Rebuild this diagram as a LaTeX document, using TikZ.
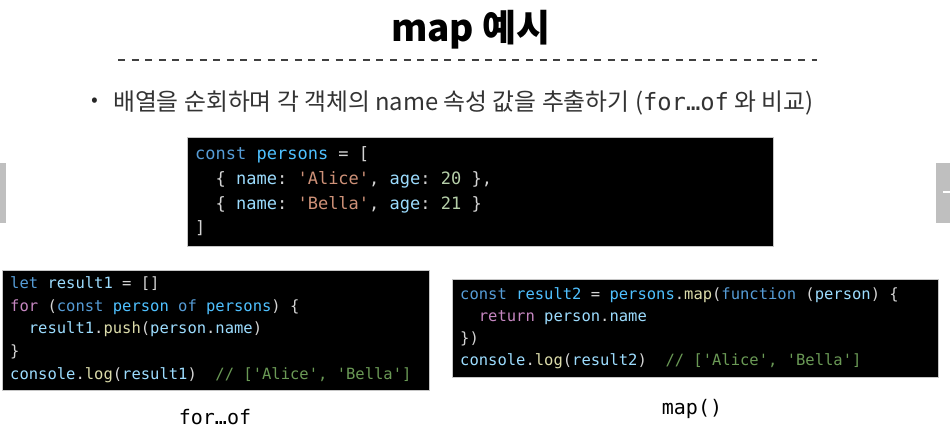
\documentclass[tikz,border=0pt]{standalone}
\usepackage{fontspec}
\usepackage{tikz}
\setmonofont{DejaVu Sans Mono}
\newfontfamily\kr{Noto Sans CJK KR}

\definecolor{kwblue}{HTML}{569CD6}
\definecolor{varblue}{HTML}{9CDCFE}
\definecolor{cstblue}{HTML}{4FC1FF}
\definecolor{strorange}{HTML}{CE9178}
\definecolor{numgreen}{HTML}{B5CEA8}
\definecolor{fnyellow}{HTML}{DCDCAA}
\definecolor{ctlpink}{HTML}{C586C0}
\definecolor{comgreen}{HTML}{6A9955}
\definecolor{plain}{HTML}{D4D4D4}
\definecolor{navgray}{HTML}{BFBFBF}

\newcommand{\ckw}[1]{\textcolor{kwblue}{#1}}
\newcommand{\cvar}[1]{\textcolor{varblue}{#1}}
\newcommand{\ccst}[1]{\textcolor{cstblue}{#1}}
\newcommand{\cstr}[1]{\textcolor{strorange}{#1}}
\newcommand{\cnum}[1]{\textcolor{numgreen}{#1}}
\newcommand{\cfn}[1]{\textcolor{fnyellow}{#1}}
\newcommand{\cctl}[1]{\textcolor{ctlpink}{#1}}
\newcommand{\ccom}[1]{\textcolor{comgreen}{#1}}

\tikzset{
  codebox/.style={draw=gray!45, fill=black, inner sep=0pt, anchor=north west},
  bigline/.style={anchor=west, inner sep=0pt, text=plain, text height=12pt, text depth=3.5pt,
    font=\ttfamily\frenchspacing\fontsize{17}{20}\selectfont},
  codeline/.style={anchor=west, inner sep=0pt, text=plain, text height=11pt, text depth=3pt,
    font=\ttfamily\frenchspacing\fontsize{15.5}{18}\selectfont},
  caption/.style={inner sep=0pt, font=\ttfamily\fontsize{20}{24}\selectfont}
}

\begin{document}
\begin{tikzpicture}[x=1pt, y=-1pt]
\useasboundingbox (0,0) rectangle (950,431);

% title and rule
\node[font=\kr\bfseries\fontsize{37}{40}\selectfont] (title) at (471,30) {map 예시};
\draw[black!75, line width=1.4pt, dash pattern=on 7pt off 6.6pt] (118,60) -- (817,60);

\node[font=\kr\fontsize{20}{22}\selectfont, text=black!85] (dot) at (95,102) {•};
\node[anchor=west, inner sep=0pt, font=\kr\fontsize{23.8}{26}\selectfont, text=black!80] (intro) at (113,103)
  {배열을 순회하며 각 객체의 name 속성 값을 추출하기 (\texttt{for…of} 와 비교)};

% side bars
\fill[navgray] (0,163) rectangle (6,223);
\fill[navgray] (936,163) rectangle (950,223);
\fill[white] (943,191) rectangle (950,193);

% persons
\node[codebox, minimum width=586pt, minimum height=109pt] (objbox) at (187,137) {};
\node[bigline] (obj1) at (195,155) {\ckw{const} \ccst{persons} = [};
\node[bigline] (obj2) at (195,180) {~~\{ \cvar{name}: \cstr{'Alice'}, \cvar{age}: \cnum{20} \},};
\node[bigline] (obj3) at (195,205) {~~\{ \cvar{name}: \cstr{'Bella'}, \cvar{age}: \cnum{21} \}};
\node[bigline] (obj4) at (195,229) {]};

% for...of
\node[codebox, minimum width=427pt, minimum height=120pt] (forbox) at (2,270) {};
\node[codeline] (for1) at (10,284) {\ckw{let} \cvar{result1} = []};
\node[codeline] (for2) at (10,307) {\cctl{for} (\ckw{const} \ccst{person} \ckw{of} \ccst{persons}) \{};
\node[codeline] (for3) at (10,329) {~~\cvar{result1}.\cfn{push}(\cvar{person}.\cvar{name})};
\node[codeline] (for4) at (10,352) {\}};
\node[codeline] (for5) at (10,375) {\cvar{console}.\cfn{log}(\cvar{result1})~~\ccom{// ['Alice', 'Bella']}};
\node[caption] (forcap) at (215,417) {for…of};

% map()
\node[codebox, minimum width=486pt, minimum height=98pt] (mapbox) at (452,279) {};
\node[codeline] (map1) at (460,295) {\ckw{const} \ccst{result2} = \ccst{persons}.\cfn{map}(\ckw{function} (\cvar{person}) \{};
\node[codeline] (map2) at (460,317) {~~\cctl{return} \cvar{person}.\cvar{name}};
\node[codeline] (map3) at (460,339) {\})};
\node[codeline] (map4) at (460,361) {\cvar{console}.\cfn{log}(\cvar{result2})~~\ccom{// ['Alice', 'Bella']}};
\node[caption] (mapcap) at (692,409) {map()};
\end{tikzpicture}
\end{document}
